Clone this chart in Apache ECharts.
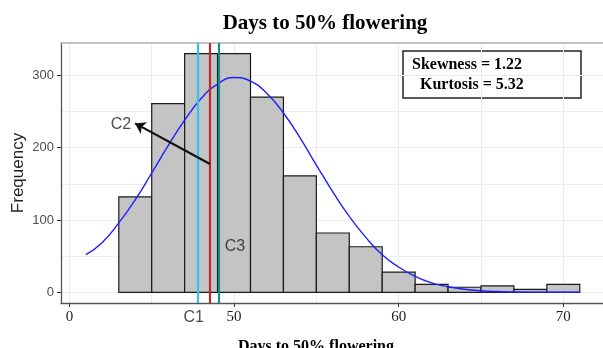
<!DOCTYPE html>
<html><head><meta charset="utf-8">
<script src="https://cdn.jsdelivr.net/npm/echarts@6/dist/echarts.min.js"></script>
<style>html,body{margin:0;padding:0;background:#fff}#c{width:603px;height:348px}</style>
</head><body><div id="c"></div>
<script>
// ---- data ----
const binCenters = [44, 46, 48, 50, 52, 54, 56, 58, 60, 62, 64, 66, 68, 70];
const counts     = [132, 261, 330, 330, 270, 161, 82, 63, 28, 11, 7, 9, 4, 11];
const binWidth = 2;
const curveX = [41, 42, 43, 44, 45, 46, 47, 48, 49, 50, 51, 52, 53, 54, 55, 56, 57, 58, 59, 60, 61, 62, 63, 64, 65, 66, 67, 68, 69, 70, 71];
const curveY = [52, 69, 96, 128, 165, 203, 238, 268, 288, 297, 292, 275, 248, 214, 176, 139, 105, 76, 52, 35, 22, 13, 7.7, 4.2, 2.2, 1.1, 0.5, 0.2, 0.1, 0, 0];
const xTickValues = [40, 50, 60, 70];
const xTickLabels = ['0', '50', '60', '70'];
const yTickValues = [0, 100, 200, 300];
const xGridValues = [40, 45, 50, 55, 60, 65, 70];
const yGridValues = [0, 50, 100, 150, 200, 250, 300];
const cutC1 = 47.8, cutMid = 48.53, cutC3 = 49.07;
const arrowFrom = [48.54, 177.4], arrowTo = [43.99, 233.6];
const c1Pos = [47.55, -35], c2Pos = [43.13, 231.3], c3Pos = [50.06, 63.9];
const titleText = 'Days to 50% flowering';
const xName = 'Days to 50% flowering';
const yName = 'Frequency';
const statLines = ['Skewness = 1.22', 'Kurtosis = 5.32'];

const xMin = 39.49, xMax = 72.41, yMin = -14.8, yMax = 344.8;

const chart = echarts.init(document.getElementById('c'), null, {renderer: 'canvas'});
const sans = 'Liberation Sans, Arial, sans-serif';
const serif = 'Liberation Serif, Times New Roman, serif';

chart.setOption({
  animation: false,
  backgroundColor: '#fff',
  title: [
    {text: titleText, left: 320, top: 8, textAlign: 'center',
     textStyle: {fontFamily: serif, fontWeight: 'bold', fontSize: 21, color: '#000'}},
    {text: xName, left: 311, top: 334, textAlign: 'center',
     textStyle: {fontFamily: serif, fontWeight: 'bold', fontSize: 16, color: '#000'}}
  ],
  grid: {left: 61, top: 43, right: 0, bottom: 45, containLabel: false, outerBoundsMode: 'none'},
  xAxis: [{
    type: 'value', min: xMin, max: xMax, position: 'bottom',
    axisLine: {show: true, onZero: false, lineStyle: {color: '#555', width: 1.3}},
    axisTick: {show: true, length: 4, customValues: xTickValues, lineStyle: {color: '#333'}},
    axisLabel: {show: true, customValues: xTickValues, margin: 7,
      formatter: v => xTickLabels[xTickValues.indexOf(v)],
      fontFamily: serif, fontSize: 15, color: '#222'},
    splitLine: {show: false}
  }, {
    type: 'value', min: xMin, max: xMax, position: 'top',
    axisLine: {show: true, onZero: false, lineStyle: {color: '#b0b0b0', width: 1.5}},
    axisTick: {show: false}, axisLabel: {show: false}, splitLine: {show: false}
  }],
  yAxis: {
    type: 'value', min: yMin, max: yMax,
    name: yName, nameLocation: 'middle', nameGap: 34, nameRotate: 90, nameMoveOverlap: false,
    nameTextStyle: {fontFamily: sans, fontSize: 17, color: '#222'},
    axisLine: {show: true, onZero: false, lineStyle: {color: '#555', width: 1.3}},
    axisTick: {show: true, length: 4, customValues: yTickValues, lineStyle: {color: '#333'}},
    axisLabel: {show: true, customValues: yTickValues, margin: 7,
      fontFamily: sans, fontSize: 13, color: '#4d4d4d'},
    splitLine: {show: false}
  },
  graphic: [{
    type: 'group', z: 100,
    children: [
      {type: 'rect', shape: {x: 403, y: 51, width: 178, height: 47},
       style: {fill: '#fff', stroke: '#222', lineWidth: 1.5}},
      {type: 'text', x: 412, y: 65, style: {text: statLines[0], fontFamily: serif, fontWeight: 'bold', fontSize: 16, fill: '#000', textVerticalAlign: 'middle'}},
      {type: 'text', x: 420, y: 85, style: {text: statLines[1], fontFamily: serif, fontWeight: 'bold', fontSize: 16, fill: '#000', textVerticalAlign: 'middle'}}
    ]
  }],
  series: [
    {
      type: 'line', data: [], z: 0, silent: true,
      markLine: {
        z: 0, silent: true, symbol: 'none', animation: false,
        label: {show: false},
        lineStyle: {color: '#ececec', width: 1, type: 'solid'},
        data: xGridValues.map(v => ({xAxis: v})).concat(yGridValues.map(v => ({yAxis: v})))
      }
    },
    {
      type: 'custom', z: 2,
      data: binCenters.map((c, i) => [c, counts[i]]),
      encode: {x: 0, y: 1},
      renderItem: (params, api) => {
        const c = api.value(0), v = api.value(1);
        const p0 = api.coord([c - binWidth / 2, v]);
        const p1 = api.coord([c + binWidth / 2, 0]);
        return {type: 'rect',
          shape: {x: p0[0], y: p0[1], width: p1[0] - p0[0], height: p1[1] - p0[1]},
          style: {fill: '#c4c4c4', stroke: '#1a1a1a', lineWidth: 1.2}};
      }
    },
    {
      type: 'line', z: 3, smooth: true, showSymbol: false, symbol: 'none',
      data: curveX.map((x, i) => [x, curveY[i]]),
      lineStyle: {color: '#1f1fff', width: 1.4}
    },
    {
      type: 'line', data: [], z: 6, silent: true,
      markLine: {
        z: 6, silent: true, symbol: 'none', animation: false,
        label: {show: false},
        data: [
          {xAxis: cutC1, lineStyle: {color: '#2ec5f2', width: 2.2, type: 'solid'}},
          {xAxis: cutMid, lineStyle: {color: '#b52a2a', width: 2.2, type: 'solid'}},
          {xAxis: cutC3, lineStyle: {color: '#178c8c', width: 2.2, type: 'solid'}},
          [{coord: arrowFrom, symbol: 'none'},
           {coord: arrowTo, symbol: 'arrow', symbolSize: 10,
            lineStyle: {color: '#111', width: 2.2, type: 'solid'}}]
        ]
      }
    },
    {
      type: 'scatter', z: 7, silent: true, symbolSize: 1, clip: false,
      itemStyle: {color: 'rgba(0,0,0,0)'},
      data: [
        {value: c1Pos, name: 'C1'},
        {value: c2Pos, name: 'C2'},
        {value: c3Pos, name: 'C3'}
      ],
      label: {show: true, position: 'inside', formatter: p => p.name,
              fontFamily: sans, fontSize: 16, color: '#222'}
    }
  ]
});
</script>
</body></html>
